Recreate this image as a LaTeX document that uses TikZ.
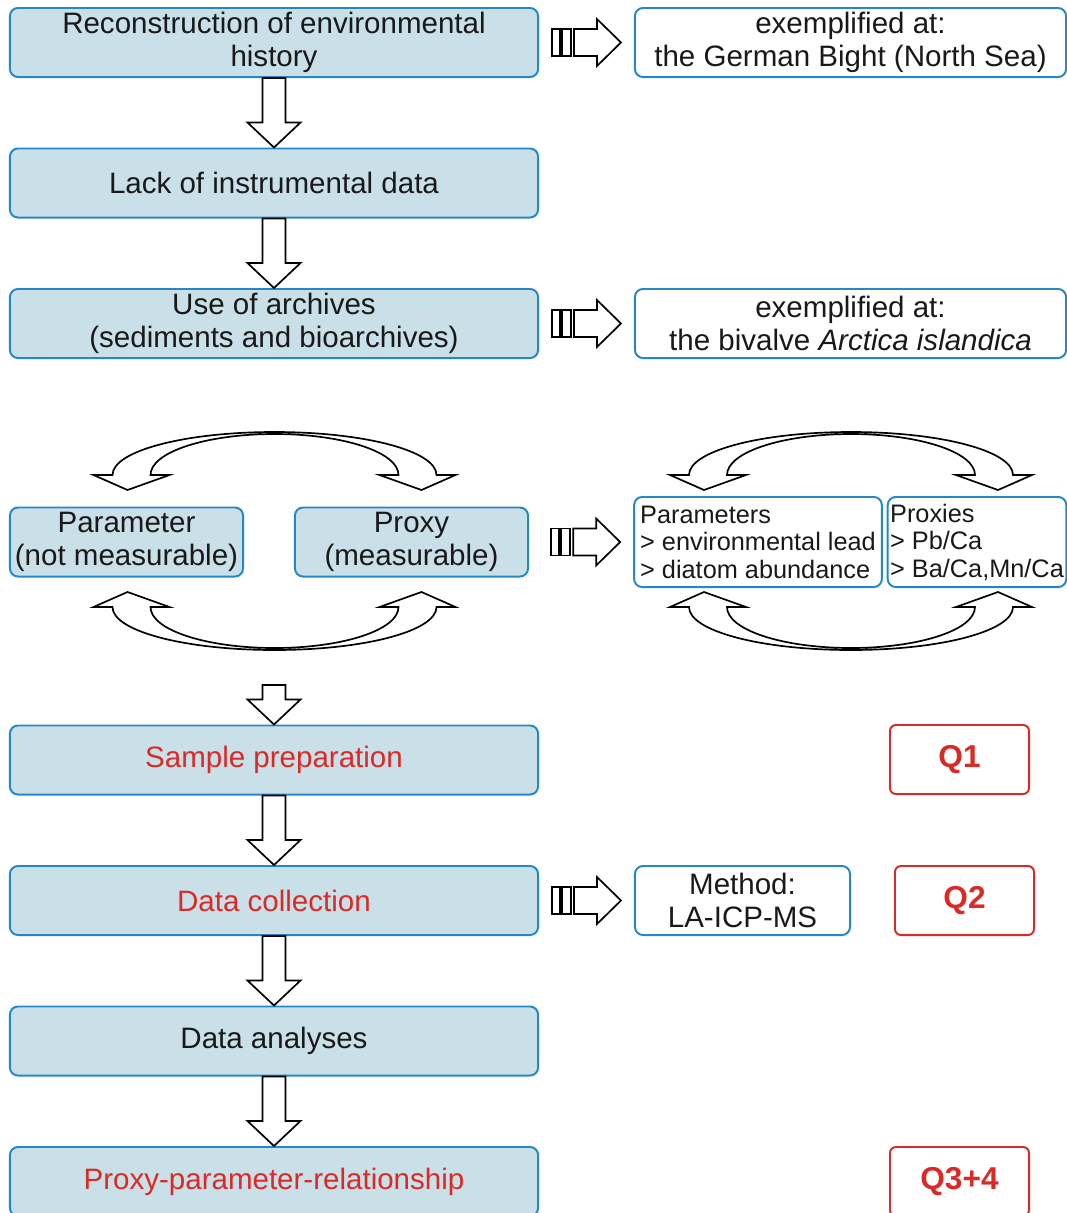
\documentclass[tikz,border=0pt]{standalone}
\usepackage{fontspec}
\setmainfont{Liberation Sans}
\usetikzlibrary{calc}

\definecolor{boxfill}{RGB}{202,224,232}
\definecolor{boxline}{RGB}{38,135,198}
\definecolor{qred}{RGB}{218,42,38}

\tikzset{
  stage/.style={draw=boxline, line width=1.4pt, fill=boxfill, rounded corners=0.2cm,
    minimum width=13.2cm, minimum height=1.725cm, align=center, inner sep=0pt,
    text=black!90, font=\fontsize{21}{23.5}\selectfont},
  example/.style={stage, fill=white, minimum width=10.775cm},
  listbox/.style={draw=boxline, line width=1.4pt, rounded corners=0.2cm, minimum height=2.25cm,
    align=left, inner sep=0.15cm, text=black!90, font=\fontsize{18}{19.6}\selectfont},
  question/.style={draw=qred, line width=1.4pt, rounded corners=0.15cm, minimum width=3.475cm,
    minimum height=1.725cm, text=qred, font=\bfseries\fontsize{22.5}{26}\selectfont},
  blockarrow/.style={draw=black, fill=white, line width=1.2pt, line join=miter},
  swaparrows/.pic={
    \foreach \sx/\sy in {1/1,-1/1,1/-1,-1/-1}
      \draw[blockarrow, xscale=\sx, yscale=\sy] (-162,-66)
        .. controls (-162,-90) and (-90,-109) .. (0,-109) -- (0,-107)
        .. controls (-68,-107) and (-124,-89) .. (-124,-66)
        -- (-105,-66) -- (-147,-51) -- (-181,-66) -- cycle;
  }
}

% hollow arrow pointing down, from #1 to #2
\newcommand{\flowdown}[2]{%
  \draw[blockarrow] ($(#1)+(-11.5,0)$) -- ($(#2)+(-11.5,-25)$) -- ($(#2)+(-26.5,-25)$)
    -- (#2) -- ($(#2)+(26.5,-25)$) -- ($(#2)+(11.5,-25)$) -- ($(#1)+(11.5,0)$) -- cycle;}

% striped hollow arrow pointing right, from #1 to #2
\newcommand{\stripearrow}[2]{%
  \coordinate (sa) at (#1.east -| #2.west);
  \draw[blockarrow] ($(sa)+(-82,-13.5)$) rectangle ($(sa)+(-74,13.5)$);
  \draw[blockarrow] ($(sa)+(-72,-13.5)$) rectangle ($(sa)+(-63,13.5)$);
  \draw[blockarrow] ($(sa)+(-60,-13.5)$) -- ($(sa)+(-37,-13.5)$) -- ($(sa)+(-37,-23.5)$)
    -- ($(sa)+(-13,0)$) -- ($(sa)+(-37,23.5)$) -- ($(sa)+(-37,13.5)$) -- ($(sa)+(-60,13.5)$) -- cycle;}

\begin{document}
\begin{tikzpicture}[x=0.025cm, y=-0.025cm]
  \useasboundingbox (0,0) rectangle (1067,1213);
  \clip (0,0) rectangle (1067,1213);

  % main column
  \node[stage] (recon) at (274,42.5) {Reconstruction of environmental\\history};
  \node[stage] (lack) at (274,183) {Lack of instrumental data};
  \node[stage] (archives) at (274,323.5) {Use of archives\\(sediments and bioarchives)};
  \node[stage, minimum width=5.825cm] (param) at (126.5,542) {Parameter\\(not measurable)};
  \node[stage, minimum width=5.825cm] (proxy) at (411.5,542) {Proxy\\(measurable)};
  \node[stage, text=qred] (prep) at (274,760) {Sample preparation};
  \node[stage, text=qred] (collect) at (274,900.5) {Data collection};
  \node[stage] (analyses) at (274,1041) {Data analyses};
  \node[stage, text=qred] (relation) at (274,1181.5) {Proxy-parameter-relationship};

  % examples on the right
  \node[example] (german) at (850.5,42.5) {exemplified at:\\the German Bight (North Sea)};
  \node[example] (arctica) at (850.5,323.5) {exemplified at:\\the bivalve \textit{Arctica islandica}};
  \node[listbox, minimum width=6.15cm] (paramlist) at (758,542)
    {Parameters\\> environmental lead\\> diatom abundance};
  \node[listbox, minimum width=4.45cm, inner xsep=0.06cm] (proxylist) at (977,542)
    {Proxies\\> Pb/Ca\\> Ba/Ca,Mn/Ca};
  \node[example, minimum width=5.375cm] (method) at (742.5,900.5) {Method:\\LA-ICP-MS};

  % questions
  \node[question] (qone) at (959.5,759.5) {Q1};
  \node[question] (qtwo) at (964.5,900.5) {Q2};
  \node[question] (qthree) at (959.5,1181.5) {Q3+4};

  % arrows down the column
  \flowdown{recon.south}{lack.north}
  \flowdown{lack.south}{archives.north}
  \coordinate (gap) at (274,685);
  \flowdown{gap}{prep.north}
  \flowdown{prep.south}{collect.north}
  \flowdown{collect.south}{analyses.north}
  \flowdown{analyses.south}{relation.north}

  % arrows to the right
  \stripearrow{recon}{german}
  \stripearrow{archives}{arctica}
  \stripearrow{proxy}{paramlist}
  \stripearrow{collect}{method}

  % exchange arrows
  \pic at (274.5,541) {swaparrows};
  \pic at (851,541) {swaparrows};
\end{tikzpicture}
\end{document}
